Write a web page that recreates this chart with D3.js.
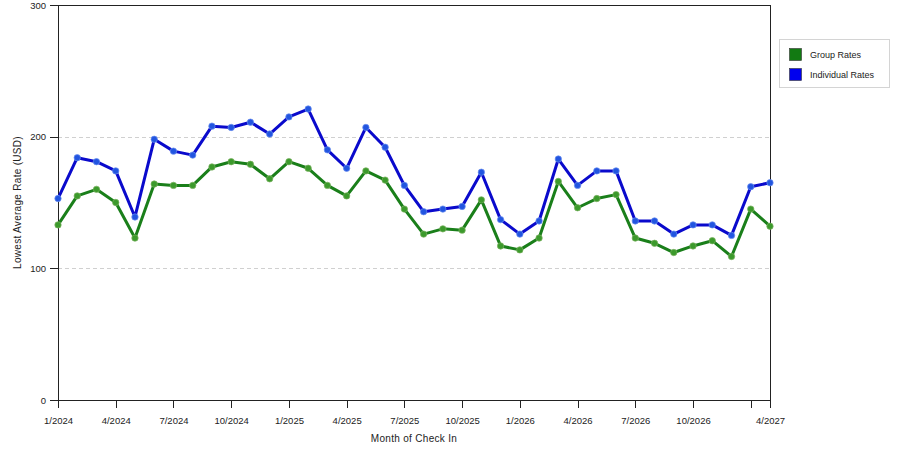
<html>
<head>
  <style>
    body { margin: 0; background: #fff; }
    .chart text { font-family: "Liberation Sans", Arial, sans-serif; fill: #222; }
    .axis path, .axis line { stroke: #222; shape-rendering: crispEdges; }
    .grid line { stroke: #d0d0d0; stroke-dasharray: 4,3; shape-rendering: crispEdges; }
  </style>
</head>
<body>
  <div id="chart"></div>
  <script src="https://d3js.org/d3.v7.min.js"></script>
  <script>
    // months of check in (the axis jumps from 1/2027 to 4/2027)
    var months = [
      "1/2024", "2/2024", "3/2024", "4/2024", "5/2024", "6/2024", "7/2024", "8/2024", "9/2024", "10/2024", "11/2024", "12/2024",
      "1/2025", "2/2025", "3/2025", "4/2025", "5/2025", "6/2025", "7/2025", "8/2025", "9/2025", "10/2025", "11/2025", "12/2025",
      "1/2026", "2/2026", "3/2026", "4/2026", "5/2026", "6/2026", "7/2026", "8/2026", "9/2026", "10/2026", "11/2026", "12/2026",
      "1/2027", "4/2027"
    ];
    var groupRates = [
      133, 155, 160, 150, 123, 164, 163, 163, 177, 181, 179, 168,
      181, 176, 163, 155, 174, 167, 145, 126, 130, 129, 152, 117,
      114, 123, 166, 146, 153, 156, 123, 119, 112, 117, 121, 109,
      145, 132
    ];
    var individualRates = [
      153, 184, 181, 174, 139, 198, 189, 186, 208, 207, 211, 202,
      215, 221, 190, 176, 207, 192, 163, 143, 145, 147, 173, 137,
      126, 136, 183, 163, 174, 174, 136, 136, 126, 133, 133, 125,
      162, 165
    ];
    var yTicks = [0, 100, 200, 300];
    var seriesNames = ["Group Rates", "Individual Rates"];
    var lineColors = ["#1a7f1a", "#0a0acc"];
    var dotColors = ["#3c9a2c", "#2255e0"];
    var swatchColors = ["#127a12", "#0000ee"];

    (function () {
      var width = 900, height = 450,
          pLeft = 58, pRight = 770, pTop = 5, pBottom = 400;

      var x = d3.scalePoint().domain(months).range([pLeft, pRight]);
      var y = d3.scaleLinear().domain([0, 300]).range([pBottom, pTop]);

      var svg = d3.select("#chart").append("svg")
        .attr("class", "chart")
        .attr("width", width)
        .attr("height", height);

      // dashed grid
      svg.append("g").attr("class", "grid")
        .selectAll("line")
        .data(yTicks.filter(function (d) { return d > 0 && d < 300; }))
        .enter().append("line")
        .attr("x1", pLeft).attr("x2", pRight)
        .attr("y1", function (d) { return Math.round(y(d)) + 0.5; })
        .attr("y2", function (d) { return Math.round(y(d)) + 0.5; });

      // frame
      svg.append("rect")
        .attr("x", pLeft + 0.5).attr("y", pTop + 0.5)
        .attr("width", pRight - pLeft).attr("height", pBottom - pTop)
        .attr("fill", "none").attr("stroke", "#222")
        .style("shape-rendering", "crispEdges");

      var tickMonths = months.filter(function (d, i) { return i % 3 === 0 || i === months.length - 1; });

      svg.append("g").attr("class", "axis")
        .attr("transform", "translate(0," + pBottom + ")")
        .call(d3.axisBottom(x).tickValues(tickMonths).tickSize(8).tickSizeOuter(0)
          .tickFormat(function (d) { return d === "1/2027" ? "" : d; }))
        .call(function (g) {
          g.selectAll("text").attr("font-size", 9.5).attr("y", 17);
          g.attr("font-family", null);
        });

      svg.append("g").attr("class", "axis")
        .attr("transform", "translate(" + pLeft + ",0)")
        .call(d3.axisLeft(y).tickValues(yTicks).tickSize(8).tickSizeOuter(0).tickPadding(4))
        .call(function (g) {
          g.selectAll("text").attr("font-size", 9.5);
          g.attr("font-family", null);
        });

      svg.append("text")
        .attr("x", (pLeft + pRight) / 2).attr("y", 442)
        .attr("text-anchor", "middle").attr("font-size", 10)
        .attr("letter-spacing", 0.3)
        .text("Month of Check In");

      svg.append("text")
        .attr("transform", "translate(21," + ((pTop + pBottom) / 2) + ") rotate(-90)")
        .attr("text-anchor", "middle").attr("font-size", 10)
        .attr("letter-spacing", 0.3)
        .text("Lowest Average Rate (USD)");

      var line = d3.line()
        .x(function (d, i) { return x(months[i]); })
        .y(function (d) { return y(d); });

      [groupRates, individualRates].forEach(function (vals, s) {
        svg.append("path")
          .datum(vals)
          .attr("d", line)
          .attr("fill", "none")
          .attr("stroke", lineColors[s])
          .attr("stroke-width", 3)
          .attr("stroke-linejoin", "round");

        svg.append("g").selectAll("circle")
          .data(vals)
          .enter().append("circle")
          .attr("cx", function (d, i) { return x(months[i]); })
          .attr("cy", function (d) { return y(d); })
          .attr("r", 3.2)
          .attr("fill", dotColors[s])
          .attr("stroke", s === 0 ? "#7ab060" : "#6a8ef0")
          .attr("stroke-opacity", 0.7)
          .attr("stroke-width", 1);
      });

      // legend
      var legend = svg.append("g").attr("transform", "translate(779,39)");
      legend.append("rect")
        .attr("x", 0.5).attr("y", 0.5)
        .attr("width", 110).attr("height", 48)
        .attr("fill", "#fff").attr("stroke", "#d4d4d4");
      seriesNames.forEach(function (name, i) {
        legend.append("rect")
          .attr("x", 10.5).attr("y", 9.5 + i * 20)
          .attr("width", 12).attr("height", 12)
          .attr("fill", swatchColors[i]).attr("stroke", "#333").attr("stroke-width", 0.6);
        legend.append("text")
          .attr("x", 31).attr("y", 19 + i * 20)
          .attr("font-size", 9)
          .text(name);
      });
    })();
  </script>
</body>
</html>
